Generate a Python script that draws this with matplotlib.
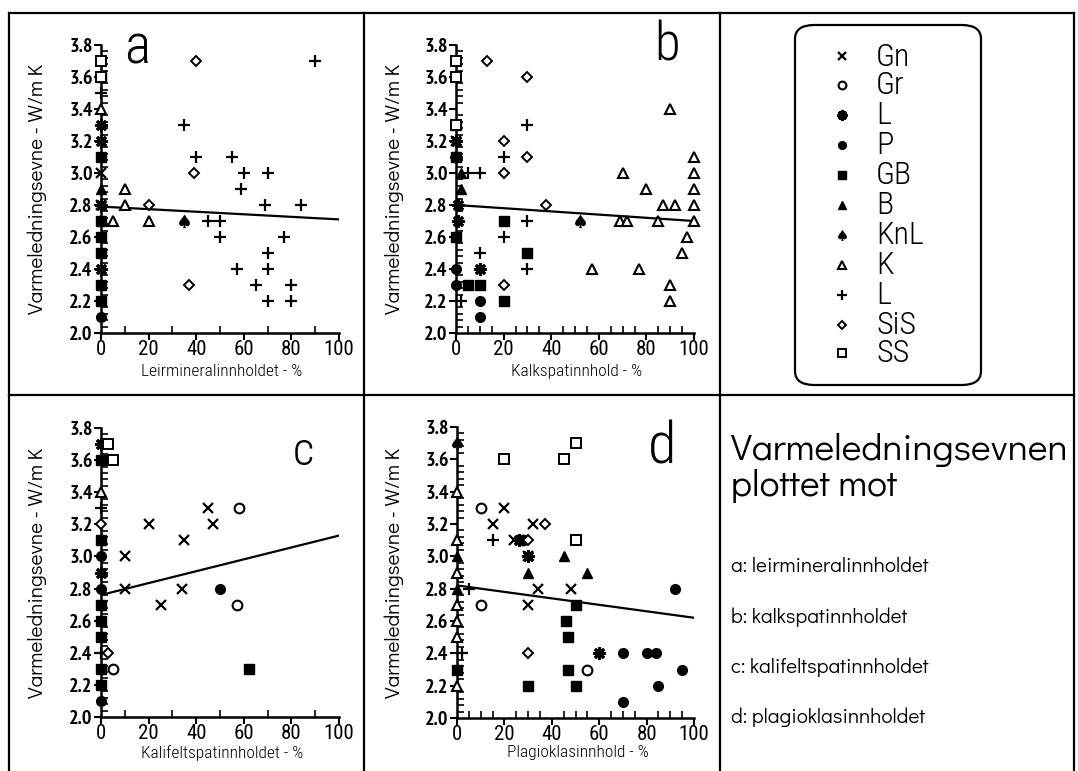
import matplotlib
matplotlib.use("Agg")
import matplotlib.pyplot as plt
import numpy as np
from matplotlib.patches import FancyBboxPatch
from matplotlib.lines import Line2D
from matplotlib.ticker import MultipleLocator

GEO = ["Didact Gothic", "DejaVu Sans"]
COND = ["Roboto Condensed", "DejaVu Sans"]
NARROW_BOLD = ["PT Sans Narrow", "DejaVu Sans"]

# rock types, in legend order
KINDS = ["Gn", "Gr", "L1", "P", "GB", "B", "KnL", "K", "L2", "SiS", "SS"]
LABELS = ["Gn", "Gr", "L", "P", "GB", "B", "KnL", "K", "L", "SiS", "SS"]

# (x values, y values) per rock type for each panel
PANEL_A = {
    "Gn": ([0, 0], [3.0, 2.8]),
    "L1": ([0, 0, 0, 0], [3.3, 3.2, 2.8, 2.4]),
    "P": ([0], [2.1]),
    "GB": ([0, 0, 0, 0, 0, 0, 0], [3.6, 3.1, 2.7, 2.6, 2.5, 2.3, 2.2]),
    "B": ([0], [2.9]),
    "KnL": ([35], [2.7]),
    "K": ([0, 10, 10, 5, 20], [3.4, 2.9, 2.8, 2.7, 2.7]),
    "L2": ([0, 35, 40, 55, 60, 70, 59, 69, 84, 45, 50, 50, 77, 70, 57, 70, 65, 80, 70, 80, 90],
           [3.5, 3.3, 3.1, 3.1, 3.0, 3.0, 2.9, 2.8, 2.8, 2.7, 2.7, 2.6, 2.6, 2.5, 2.4, 2.4, 2.3, 2.3, 2.2, 2.2, 3.7]),
    "SiS": ([40, 39, 20, 37], [3.7, 3.0, 2.8, 2.3]),
    "SS": ([0, 0], [3.7, 3.6]),
}
PANEL_B = {
    "Gn": ([0], [3.2]),
    "L1": ([0, 0, 1, 1, 10], [3.2, 3.1, 2.8, 2.7, 2.4]),
    "P": ([0, 0, 10, 10], [2.4, 2.3, 2.2, 2.1]),
    "GB": ([0, 0, 0, 20, 30, 5, 10, 20], [3.3, 3.1, 2.6, 2.7, 2.5, 2.3, 2.3, 2.2]),
    "B": ([2, 2], [3.0, 2.9]),
    "KnL": ([52], [2.7]),
    "K": ([90, 70, 100, 100, 80, 100, 87, 92, 100, 69, 72, 85, 100, 97, 95, 57, 77, 90, 90],
          [3.4, 3.0, 3.1, 3.0, 2.9, 2.9, 2.8, 2.8, 2.8, 2.7, 2.7, 2.7, 2.7, 2.6, 2.5, 2.4, 2.4, 2.3, 2.2]),
    "L2": ([30, 20, 5, 10, 30, 20, 10, 30, 2], [3.3, 3.1, 3.0, 3.0, 2.7, 2.6, 2.5, 2.4, 2.2]),
    "SiS": ([13, 30, 20, 30, 20, 38, 20], [3.7, 3.6, 3.2, 3.1, 3.0, 2.8, 2.3]),
    "SS": ([0, 0, 0], [3.7, 3.6, 3.3]),
}
PANEL_C = {
    "Gn": ([45, 20, 47, 35, 10, 10, 34, 25], [3.3, 3.2, 3.2, 3.1, 3.0, 2.8, 2.8, 2.7]),
    "Gr": ([58, 57, 5], [3.3, 2.7, 2.3]),
    "L1": ([0, 0], [3.7, 2.9]),
    "P": ([0, 0, 0, 0, 50], [3.6, 3.0, 2.8, 2.1, 2.8]),
    "GB": ([0, 0, 0, 0, 0, 0, 0, 62], [3.6, 3.1, 2.7, 2.6, 2.5, 2.3, 2.2, 2.3]),
    "K": ([0], [3.4]),
    "L2": ([0, 0], [3.3, 2.4]),
    "SiS": ([0, 3], [3.2, 2.4]),
    "SS": ([3, 5], [3.7, 3.6]),
}
PANEL_D = {
    "Gn": ([20, 15, 32, 24, 30, 34, 48, 30], [3.3, 3.2, 3.2, 3.1, 3.0, 2.8, 2.8, 2.7]),
    "Gr": ([10, 28, 10, 55], [3.3, 3.1, 2.7, 2.3]),
    "L1": ([26, 30, 60], [3.1, 3.0, 2.4]),
    "P": ([92, 70, 80, 84, 95, 85, 70], [2.8, 2.4, 2.4, 2.4, 2.3, 2.2, 2.1]),
    "GB": ([0, 50, 46, 47, 47, 30, 50], [2.3, 2.7, 2.6, 2.5, 2.3, 2.2, 2.2]),
    "B": ([0, 0, 45, 30, 55], [3.0, 2.8, 3.0, 2.9, 2.9]),
    "KnL": ([0], [3.7]),
    "K": ([0, 0, 0, 0, 0, 0, 0], [3.4, 3.1, 2.9, 2.7, 2.6, 2.5, 2.2]),
    "L2": ([15, 5, 2], [3.1, 2.8, 2.4]),
    "SiS": ([37, 30, 30], [3.2, 3.1, 2.4]),
    "SS": ([20, 45, 50, 50], [3.6, 3.6, 3.7, 3.1]),
}

PANEL_LETTERS = ["a", "b", "c", "d"]
X_LABELS = ["Leirmineralinnholdet - %", "Kalkspatinnhold - %",
            "Kalifeltspatinnholdet - %", "Plagioklasinnhold - %"]
Y_LABEL = "Varmeledningsevne - W/m K"
X_TICKS = [0, 20, 40, 60, 80, 100]
Y_TICKS = [2.0, 2.2, 2.4, 2.6, 2.8, 3.0, 3.2, 3.4, 3.6, 3.8]

# regression lines
FIT_INTERCEPT = [2.79, 2.80, 2.76, 2.82]
FIT_SLOPE = [-0.0008, -0.0010, 0.0037, -0.0020]

SIDE_TITLE = "Varmeledningsevnen\nplottet mot"
SIDE_ITEMS = ["a: leirmineralinnholdet", "b: kalkspatinnholdet",
              "c: kalifeltspatinnholdet", "d: plagioklasinnholdet"]

STYLE = {
    "Gn": dict(marker="x", ms=7, mfc="none", mec="k", mew=1.6),
    "Gr": dict(marker="o", ms=7, mfc="white", mec="k", mew=1.5),
    "L1": dict(marker=(8, 2, 0), ms=9, mfc="k", mec="k", mew=2.2),
    "P": dict(marker="o", ms=7, mfc="k", mec="k", mew=1),
    "GB": dict(marker="s", ms=7, mfc="k", mec="k", mew=1),
    "B": dict(marker="^", ms=7, mfc="k", mec="k", mew=1),
    "KnL": dict(marker=r"$\spadesuit$", ms=9, mfc="k", mec="k", mew=0.5),
    "K": dict(marker="^", ms=7, mfc="white", mec="k", mew=1.5),
    "L2": dict(marker="+", ms=9, mfc="none", mec="k", mew=1.6),
    "SiS": dict(marker="D", ms=5.5, mfc="white", mec="k", mew=1.4),
    "SS": dict(marker="s", ms=7, mfc="white", mec="k", mew=1.4),
}

W, H = 1078, 771
fig = plt.figure(figsize=(W / 100, H / 100), dpi=100)


def fx(px):
    return px / W


def fy(py):
    return 1 - py / H


# frame lines of the 2x3 grid
for x in [9, 364, 720, 1074]:
    fig.add_artist(Line2D([fx(x), fx(x)], [fy(13), 0], color="k", lw=1.6))
for y in [13, 395]:
    fig.add_artist(Line2D([fx(9), fx(1074)], [fy(y), fy(y)], color="k", lw=1.6))

# axes boxes in pixels: left, right, top, bottom
BOXES = [(101, 339, 45, 333), (456, 694, 45, 333),
         (101, 339, 428, 717), (457, 694, 427, 718)]
PANELS = [PANEL_A, PANEL_B, PANEL_C, PANEL_D]
MINOR_X = [10, 5, 10, 5]
LETTER_POS = [(137, 48), (667, 46), (303, 452), (662, 448)]
LETTER_SIZE = [40, 38, 34, 42]
YLABEL_X = [37, 394, 37, 394]
XLABEL_Y = [371, 371, 753, 753]

for i, (panel, box) in enumerate(zip(PANELS, BOXES)):
    l, r, t, b = box
    ax = fig.add_axes([fx(l), fy(b), fx(r - l), (b - t) / H])
    ax.set_xlim(0, 100)
    ax.set_ylim(2.0, 3.8)
    for sp in ["top", "right"]:
        ax.spines[sp].set_visible(False)
    for sp in ["left", "bottom"]:
        ax.spines[sp].set_linewidth(1.8)
    ax.patch.set_alpha(0)

    xs = np.array([0, 100])
    ax.plot(xs, FIT_INTERCEPT[i] + FIT_SLOPE[i] * xs, color="k", lw=1.6, zorder=2)

    for kind in KINDS:
        if kind not in panel:
            continue
        px, py = panel[kind]
        ax.plot(px, py, ls="none", clip_on=False, zorder=3, **STYLE[kind])

    ax.set_xticks(X_TICKS)
    ax.set_xticklabels([str(v) for v in X_TICKS], family=COND, fontsize=15)
    ax.set_yticks(Y_TICKS)
    ax.set_yticklabels([f"{v:.1f}" for v in Y_TICKS], family=NARROW_BOLD,
                       fontsize=14.5, fontweight="bold")
    ax.xaxis.set_minor_locator(MultipleLocator(MINOR_X[i]))
    ax.yaxis.set_minor_locator(MultipleLocator(0.04))
    ax.tick_params(axis="both", which="major", direction="out", length=5,
                   width=1.5, colors="k")
    ax.tick_params(axis="both", which="minor", direction="in", length=5,
                   width=1.2)
    ax.tick_params(axis="x", which="major", pad=0)
    ax.tick_params(axis="y", which="major", pad=1)

    fig.text(fx((l + r) / 2 + 2), fy(XLABEL_Y[i]), X_LABELS[i], family=COND,
             fontsize=12.5, fontweight="light", ha="center", va="center")
    fig.text(fx(YLABEL_X[i]), fy((t + b) / 2), Y_LABEL, family=GEO,
             fontsize=15, rotation=90, ha="center", va="center")
    lx, ly = LETTER_POS[i]
    fig.text(fx(lx), fy(ly), PANEL_LETTERS[i], family=COND, fontsize=LETTER_SIZE[i],
             fontweight="light", ha="center", va="center")

# legend box
box = FancyBboxPatch((fx(795), fy(385)), fx(981 - 795), (385 - 25) / H,
                     boxstyle="round,pad=0,rounding_size=0.018",
                     transform=fig.transFigure, fc="none", ec="k", lw=1.6)
fig.add_artist(box)
ROW_Y = [56, 85, 115, 145, 175, 205, 235, 265, 295, 325, 353]
lax = fig.add_axes([0, 0, 1, 1])
lax.set_xlim(0, W)
lax.set_ylim(H, 0)
lax.axis("off")
for kind, label, y in zip(KINDS, LABELS, ROW_Y):
    st = dict(STYLE[kind])
    st["ms"] = st["ms"] * 0.8
    lax.plot([842], [y], ls="none", **st)
    lax.text(876, y + 1, label, family=COND, fontsize=23, fontweight="light",
             ha="left", va="center")

# explanation text in the last cell
fig.text(fx(731), fy(468), SIDE_TITLE, family=GEO, fontsize=27,
         ha="left", va="center", linespacing=1.1)
for j, item in enumerate(SIDE_ITEMS):
    fig.text(fx(731), fy(567 + 50 * j), item, family=GEO, fontsize=15,
             ha="left", va="center")

fig.savefig("out.png", dpi=100)
